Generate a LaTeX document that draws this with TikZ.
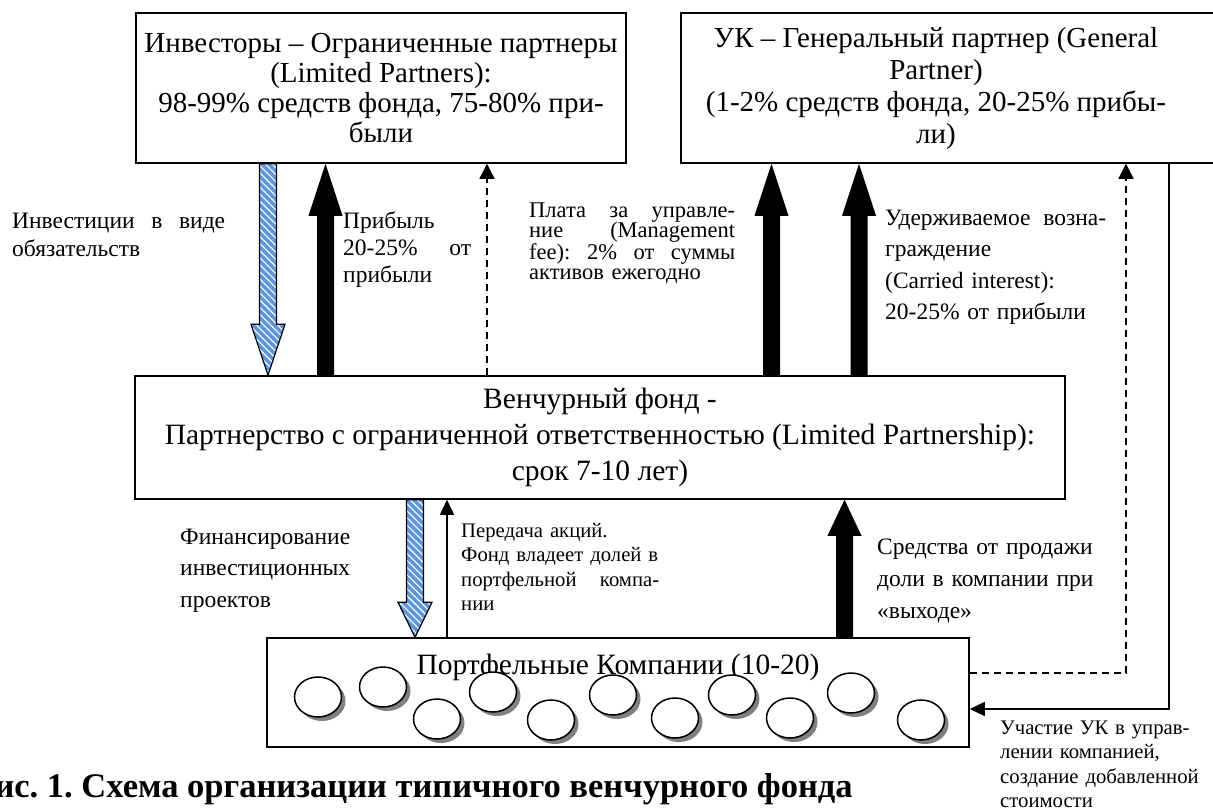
\documentclass[tikz,border=0pt]{standalone}
\usepackage{fontspec}
\setmainfont{Liberation Serif}
\usepackage{tikz}
\usetikzlibrary{arrows.meta,calc,patterns.meta}
\definecolor{hatchblue}{RGB}{95,150,220}
\frenchspacing

% fat block arrow: [style]{tail}{tip}{head length}
\newcommand{\fatarrow}[4][]{%
  \path[#1] let \p1=(#2), \p2=(#3), \n2={\y2-sign(\y2-\y1)*#4} in
    ({\x1-8.5pt},\y1) -- ({\x2-8.5pt},{\n2*1pt}) -- ({\x2-17pt},{\n2*1pt}) -- (\x2,\y2)
    -- ({\x2+17pt},{\n2*1pt}) -- ({\x2+8.5pt},{\n2*1pt}) -- ({\x1+8.5pt},\y1) -- cycle;}

\begin{document}
\begin{tikzpicture}[x=1pt,y=-1pt,
  firmbox/.style={draw,line width=1.5pt,inner sep=0pt,align=center,font=\fontsize{29}{30}\selectfont},
  lbl/.style={anchor=base west,inner sep=0pt,align=left},
  lblfont/.style={font=\fontsize{23.5}{28}\selectfont},
  smallfont/.style={font=\fontsize{20.7}{24.5}\selectfont},
  blackarrow/.style={fill=black},
  bluearrow/.style={draw=black,line width=1.2pt,preaction={fill=hatchblue},
    pattern={Lines[angle=-45,distance=5pt,line width=1.1pt]},pattern color=white},
  dasharrow/.style={line width=1.5pt,dash pattern=on 7pt off 5pt,-{Triangle[length=15pt,width=15pt]}},
  thinarrow/.style={line width=1.5pt,-{Triangle[length=15pt,width=14pt]}}]
  \useasboundingbox (0,0) rectangle (1213,811);

  %boxes
  \node[firmbox,minimum width=490pt,minimum height=150pt] (inv) at (381,88)
    {Инвесторы – Ограниченные партнеры\\(Limited Partners):\\98-99\% средств фонда, 75-80\% при-\\были};
  \node[firmbox,minimum width=544pt,minimum height=150pt] (uk) at (953,88) {};
  \node[align=center,inner sep=0pt,font=\fontsize{29}{32}\selectfont] (uktext) at (936,89)
    {УК – Генеральный партнер (General\\Partner)\\(1-2\% средств фонда, 20-25\% прибы-\\ли)};
  \node[firmbox,minimum width=930pt,minimum height=123pt,font=\fontsize{29.5}{36}\selectfont] (fund) at (600,437.5)
    {Венчурный фонд -\\Партнерство с ограниченной ответственностью (Limited Partnership):\\срок 7-10 лет)};
  \node[firmbox,minimum width=702pt,minimum height=109pt] (port) at (618,692.5) {};
  \node[anchor=base,inner sep=0pt,font=\fontsize{29.5}{30}\selectfont] (porttitle) at (618,674)
    {Портфельные Компании (10-20)};

  %companies
  \foreach \cx/\cy in {318/697,383/687,437/719,493/692,551/720,613/695,675/718,732/695,790/718,851/693,921/720}{
    \fill[black!50] (\cx+4,\cy+4) ellipse (23.5 and 20);
    \draw[line width=1.5pt,fill=white] (\cx,\cy) ellipse (23.5 and 20);
  }

  %arrow positions
  \coordinate (xa) at (268,0);
  \coordinate (xb) at (325.5,0);
  \coordinate (xc) at (487,0);
  \coordinate (xd) at (771.5,0);
  \coordinate (xe) at (859,0);
  \coordinate (xf) at (415,0);
  \coordinate (xg) at (447,0);
  \coordinate (xh) at (844.5,0);
  \coordinate (xi) at (1126,0);
  \coordinate (xj) at (1169,0);

  \fatarrow[bluearrow]{xa |- inv.south}{xa |- fund.north}{51}
  \fatarrow[blackarrow]{xb |- fund.north}{xb |- inv.south}{52}
  \draw[dasharrow] (xc |- fund.north) -- (xc |- inv.south);
  \fatarrow[blackarrow]{xd |- fund.north}{xd |- uk.south}{52}
  \fatarrow[blackarrow]{xe |- fund.north}{xe |- uk.south}{52}
  \fatarrow[bluearrow]{xf |- fund.south}{xf |- port.north}{35}
  \draw[thinarrow] (xg |- port.north) -- (xg |- fund.south);
  \fatarrow[blackarrow]{xh |- port.north}{xh |- fund.south}{36}
  \draw[dasharrow] ([yshift=19.5pt]port.east) -| (xi |- uk.south);
  \draw[thinarrow] (xj |- uk.south) |- ([yshift=-16.5pt]port.east);

  %labels
  \node[lbl,lblfont,text width=213pt] (linv) at (12,228) {Инвестиции\hfill в\hfill виде\\обязательств};
  \node[lbl,font=\fontsize{23.5}{27}\selectfont,text width=128pt] (lprof) at (343,228) {Прибыль\\20-25\%\hfill от\\прибыли};
  \node[lbl,font=\fontsize{22.5}{20.5}\selectfont,text width=206pt] (lfee) at (529,217)
    {Плата\hfill за\hfill управле-\\ние\hfill(Management\\fee):\hfill 2\%\hfill от\hfill суммы\\активов ежегодно};
  \node[lbl,font=\fontsize{23.5}{31.5}\selectfont,text width=221pt] (lcarry) at (885,225)
    {Удерживаемое\hfill возна-\\граждение\\(Carried interest):\\20-25\% от прибыли};
  \node[lbl,font=\fontsize{23.5}{31.5}\selectfont,text width=180pt] (lfin) at (180,544) {Финансирование\\инвестиционных\\проектов};
  \node[lbl,smallfont,text width=198pt] (lshare) at (461,537)
    {Передача акций.\\Фонд владеет долей в\\портфельной\hfill компа-\\нии};
  \node[lbl,font=\fontsize{23.5}{32}\selectfont,text width=230pt] (lexit) at (877,554)
    {Средства от продажи\\доли в компании при\\«выходе»};
  \node[lbl,smallfont,text width=212pt] (lgp) at (1000,734)
    {Участие УК в управ-\\лении компанией,\\создание добавленной\\стоимости};

  %caption
  \node[anchor=base east,inner sep=0pt,font=\fontsize{34.5}{38}\selectfont\bfseries] (cap) at (853,797)
    {Рис. 1. Схема организации типичного венчурного фонда};
\end{tikzpicture}
\end{document}
